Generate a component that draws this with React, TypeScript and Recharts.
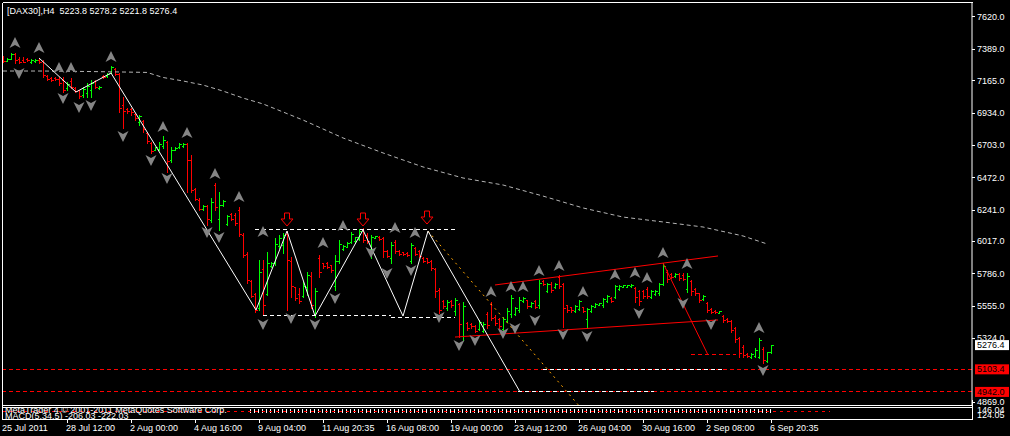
import React from 'react';
import { ComposedChart, Bar, Line, Scatter, XAxis, YAxis, ReferenceLine } from 'recharts';

const FONT = '"Liberation Sans", Arial, sans-serif';
const PLOT_R = 972;

// OHLC, one entry per H4 bar (bar 0 = 25 Jul 2011)
const opens = [
  7335, 7308, 7322, 7356, 7320, 7310, 7318, 7296, 7303, 7315, 7305, 7200, 7185, 7182, 7177, 7170,
  7110, 7160, 7115, 7095, 7060, 7080, 7100, 7160, 7110, 7200, 7195, 7222, 7250, 7213, 6990, 6963,
  6960, 6930, 6870, 6880, 6790, 6720, 6672, 6680, 6700, 6725, 6595, 6672, 6688, 6700, 6710, 6600,
  6390, 6315, 6245, 6270, 6170, 6420, 6180, 6275, 6140, 6210, 6205, 6240, 6060, 5930, 5735, 5640,
  5540, 5820, 5640, 5840, 5860, 5985, 5990, 6070, 5880, 5690, 5640, 5630, 5690, 5770, 5500, 5900,
  5860, 5860, 5845, 5700, 5880, 5960, 5980, 6010, 6020, 6035, 6100, 6060, 5960, 6044, 6052, 6040,
  5950, 5900, 6010, 5950, 5938, 5935, 5880, 5970, 5950, 5900, 5895, 5878, 5820, 5670, 5590, 5540,
  5590, 5520, 5570, 5340, 5435, 5430, 5415, 5390, 5380, 5500, 5570, 5480, 5460, 5390, 5450, 5500,
  5500, 5530, 5590, 5595, 5555, 5590, 5560, 5735, 5665, 5715, 5690, 5760, 5710, 5560, 5545, 5520,
  5535, 5545, 5460, 5520, 5552, 5565, 5560, 5590, 5615, 5620, 5680, 5693, 5694, 5695, 5685, 5660,
  5660, 5680, 5620, 5640, 5645, 5710, 5800, 5785, 5768, 5785, 5780, 5680, 5735, 5675, 5645, 5605,
  5580, 5535, 5522, 5508, 5485, 5465, 5450, 5395, 5330, 5265, 5215, 5190, 5200, 5195, 5250, 5165,
  5223.8,
];
const highs = [
  7341, 7327, 7363, 7363, 7334, 7334, 7327, 7320, 7320, 7320, 7313, 7206, 7191, 7191, 7191, 7191,
  7156, 7184, 7120, 7099, 7120, 7149, 7170, 7170, 7127, 7206, 7220, 7270, 7256, 7220, 7049, 6970,
  6970, 6934, 6920, 6884, 6799, 6727, 6691, 6727, 6770, 6734, 6691, 6691, 6720, 6720, 6720, 6634,
  6399, 6327, 6277, 6277, 6327, 6434, 6370, 6313, 6206, 6220, 6220, 6263, 6077, 5941, 5741, 5649,
  5884, 5884, 5941, 5870, 6041, 6063, 6077, 6091, 5906, 5691, 5684, 5727, 5799, 5799, 5684, 5920,
  5863, 5870, 5849, 5920, 6027, 5991, 6013, 6084, 6049, 6106, 6113, 6077, 6063, 6056, 6056, 6049,
  5956, 6013, 6027, 5956, 5941, 5941, 6006, 5977, 5956, 5906, 5899, 5884, 5827, 5684, 5599, 5599,
  5599, 5613, 5577, 5584, 5441, 5434, 5420, 5456, 5441, 5513, 5584, 5491, 5470, 5477, 5541, 5634,
  5549, 5620, 5620, 5599, 5584, 5599, 5741, 5741, 5720, 5727, 5720, 5777, 5720, 5563, 5549, 5563,
  5599, 5549, 5541, 5563, 5577, 5577, 5613, 5634, 5620, 5706, 5706, 5706, 5706, 5713, 5691, 5670,
  5670, 5691, 5670, 5670, 5720, 5863, 5813, 5791, 5791, 5791, 5791, 5791, 5741, 5684, 5649, 5634,
  5584, 5541, 5527, 5520, 5491, 5470, 5456, 5406, 5334, 5277, 5220, 5220, 5256, 5327, 5263, 5227,
  5278.2,
];
const lows = [
  7299, 7306, 7320, 7291, 7291, 7299, 7306, 7291, 7299, 7291, 7191, 7170, 7163, 7170, 7134, 7084,
  7099, 7113, 7084, 7041, 7049, 7049, 7049, 7113, 7106, 7184, 7191, 7220, 7206, 6941, 6827, 6934,
  6920, 6884, 6849, 6799, 6720, 6649, 6670, 6670, 6684, 6513, 6584, 6670, 6684, 6691, 6370, 6370,
  6313, 6241, 6241, 6134, 6156, 6241, 6099, 6270, 6134, 6170, 6134, 6056, 5906, 5720, 5620, 5513,
  5527, 5491, 5634, 5834, 5849, 5970, 5934, 5527, 5620, 5599, 5577, 5620, 5634, 5541, 5477, 5763,
  5827, 5827, 5799, 5670, 5863, 5956, 5977, 6006, 6013, 6027, 6013, 6006, 5899, 6041, 6027, 5906,
  5906, 5863, 5934, 5920, 5920, 5913, 5863, 5920, 5906, 5870, 5863, 5813, 5620, 5506, 5541, 5527,
  5549, 5491, 5334, 5313, 5384, 5399, 5370, 5384, 5370, 5399, 5456, 5420, 5399, 5370, 5441, 5477,
  5491, 5513, 5584, 5541, 5549, 5541, 5541, 5706, 5656, 5656, 5684, 5684, 5406, 5513, 5513, 5513,
  5527, 5513, 5399, 5513, 5549, 5563, 5549, 5584, 5584, 5613, 5670, 5691, 5691, 5691, 5584, 5563,
  5613, 5613, 5613, 5634, 5634, 5706, 5727, 5756, 5763, 5741, 5741, 5656, 5634, 5634, 5584, 5599,
  5513, 5506, 5506, 5506, 5441, 5441, 5370, 5299, 5191, 5191, 5191, 5184, 5191, 5184, 5149, 5156,
  5221.8,
];
const closes = [
  7305, 7322, 7356, 7310, 7300, 7302, 7310, 7312, 7316, 7300, 7206, 7178, 7170, 7175, 7148, 7099,
  7140, 7120, 7092, 7055, 7105, 7130, 7150, 7120, 7122, 7190, 7213, 7263, 7215, 6970, 6950, 6945,
  6940, 6895, 6910, 6820, 6735, 6660, 6688, 6715, 6740, 6590, 6670, 6685, 6710, 6715, 6600, 6385,
  6320, 6250, 6270, 6180, 6300, 6260, 6280, 6305, 6195, 6180, 6150, 6070, 5920, 5740, 5630, 5530,
  5800, 5560, 5860, 5862, 6000, 6040, 6060, 5885, 5700, 5610, 5590, 5700, 5780, 5560, 5660, 5800,
  5840, 5835, 5810, 5880, 6000, 5985, 6005, 6070, 6045, 6090, 6030, 6020, 6050, 6054, 6035, 5950,
  5915, 5990, 5950, 5930, 5925, 5920, 5990, 5930, 5915, 5880, 5870, 5830, 5660, 5530, 5555, 5585,
  5560, 5600, 5430, 5555, 5400, 5410, 5380, 5440, 5430, 5420, 5470, 5435, 5410, 5460, 5520, 5610,
  5540, 5600, 5615, 5555, 5580, 5550, 5720, 5712, 5710, 5670, 5712, 5700, 5540, 5530, 5525, 5555,
  5590, 5520, 5535, 5555, 5572, 5575, 5605, 5628, 5590, 5700, 5700, 5704, 5705, 5708, 5620, 5590,
  5625, 5630, 5660, 5665, 5710, 5840, 5745, 5765, 5785, 5755, 5750, 5770, 5660, 5645, 5600, 5628,
  5530, 5515, 5510, 5518, 5455, 5448, 5385, 5320, 5220, 5205, 5198, 5212, 5245, 5310, 5170, 5223.8,
  5276.4,
];

const timeTicks = [0, 16, 32, 48, 64, 80, 96, 112, 128, 144, 160, 176, 192];
const timeLabels = [
  '25 Jul 2011', '28 Jul 12:00', '2 Aug 00:00', '4 Aug 16:00', '9 Aug 04:00', '11 Aug 20:35',
  '16 Aug 08:00', '19 Aug 00:00', '23 Aug 12:00', '26 Aug 04:00', '30 Aug 16:00', '2 Sep 08:00', '6 Sep 20:35',
];
const priceTicks = [7620, 7389, 7165, 6934, 6703, 6472, 6241, 6017, 5786, 5555, 5324, 4869];

// slow moving average (dotted grey)
const maIdx = [0, 10, 20, 30, 36, 40, 45, 50, 55, 60, 65, 75, 85, 95, 105, 115, 125, 135, 145, 155, 165, 175, 185, 191];
const maVals = [7234, 7234, 7231, 7227, 7224, 7188, 7163, 7134, 7091, 7041, 6999, 6884, 6756, 6649, 6549, 6470, 6420, 6341, 6256, 6191, 6156, 6120, 6056, 5999];

// zigzag (white)
const zigIdx = [9, 18.25, 27, 63.25, 71, 78, 90, 100, 106.25, 129.25];
const zigVals = [7327, 7084, 7220, 5527, 6091, 5484, 6099, 5484, 6091, 4942];

// fractals
const upIdx = [3, 9, 14, 17, 27, 40, 46, 53, 59, 65, 80, 85, 98, 103, 122, 127, 130, 134, 139, 145, 153, 158, 161, 165, 171, 189];
const upVals = [7434, 7399, 7256, 7256, 7334, 6834, 6791, 6499, 6334, 6084, 6006, 6127, 6113, 6077, 5656, 5691, 5691, 5806, 5842, 5656, 5777, 5791, 5756, 5934, 5856, 5398];
const downIdx = [4, 15, 19, 22, 30, 37, 41, 51, 54, 65, 72, 78, 83, 92, 96, 102, 109, 114, 118, 125, 128, 133, 140, 146, 159, 170, 177, 190];
const downVals = [7220, 7041, 6977, 6991, 6770, 6599, 6470, 6084, 6049, 5427, 5470, 5427, 5613, 5941, 5791, 5813, 5477, 5277, 5313, 5363, 5399, 5456, 5356, 5341, 5506, 5577, 5427, 5099];
const markIdx = [71, 90, 106];
const markVals = [6170, 6170, 6184];

const levels = [5103.4, 4942.0];
const lastClose = 5276.4;

const bars = opens.map((o, k) => ({ i: k, o, h: highs[k], l: lows[k], c: closes[k], range: [lows[k], highs[k]] }));
const maData = maIdx.map((i, k) => ({ i, p: maVals[k] }));
const zigData = zigIdx.map((i, k) => ({ i, p: zigVals[k] }));
const upData = upIdx.map((i, k) => ({ i, p: upVals[k] }));
const downData = downIdx.map((i, k) => ({ i, p: downVals[k] }));
const markData = markIdx.map((i, k) => ({ i, p: markVals[k] }));

const OhlcShape = (props: any) => {
  const { x, y, width, height, payload } = props;
  if (!payload || x == null) return null;
  const { o, h, l, c } = payload;
  const cx = Math.round(x + width / 2) + 0.5;
  const span = h - l || 1;
  const at = (v: number) => Math.round(y + ((h - v) / span) * height) + 0.5;
  const col = c >= o ? '#00ff00' : '#ff0000';
  return (
    <g stroke={col} strokeWidth={1} shapeRendering="crispEdges">
      <line x1={cx} x2={cx} y1={Math.round(y)} y2={Math.round(y + height) + 1} />
      <line x1={cx - 2} x2={cx} y1={at(o)} y2={at(o)} />
      <line x1={cx} x2={cx + 2} y1={at(c)} y2={at(c)} />
    </g>
  );
};

const UpArrow = (p: any) => {
  const { cx, cy } = p;
  return (
    <polygon
      points={`${cx},${cy - 6} ${cx + 5.5},${cy + 5} ${cx},${cy + 2} ${cx - 5.5},${cy + 5}`}
      fill="#858585"
    />
  );
};

const DownArrow = (p: any) => {
  const { cx, cy } = p;
  return (
    <polygon
      points={`${cx},${cy + 6} ${cx + 5.5},${cy - 5} ${cx},${cy - 2} ${cx - 5.5},${cy - 5}`}
      fill="#858585"
    />
  );
};

const RedMark = (p: any) => {
  const { cx, cy } = p;
  return (
    <polygon
      points={`${cx - 2.5},${cy - 7} ${cx + 2.5},${cy - 7} ${cx + 2.5},${cy - 1} ${cx + 6},${cy - 1} ${cx},${cy + 6} ${cx - 6},${cy - 1} ${cx - 2.5},${cy - 1}`}
      fill="none"
      stroke="#ff0000"
      strokeWidth={1}
    />
  );
};

const PriceTick = (props: any) => {
  const { y, payload } = props;
  return (
    <g>
      <line x1={PLOT_R} x2={PLOT_R + 3} y1={y} y2={y} stroke="#fff" shapeRendering="crispEdges" />
      <text x={PLOT_R + 5} y={y} fill="#fff" fontSize={9} fontFamily={FONT} dominantBaseline="central">
        {Number(payload.value).toFixed(1)}
      </text>
    </g>
  );
};

const TimeTick = (props: any) => {
  const { x, payload } = props;
  const k = timeTicks.indexOf(payload.value);
  return (
    <g>
      {k > 0 && <line x1={x + 0.5} x2={x + 0.5} y1={419} y2={423} stroke="#fff" shapeRendering="crispEdges" />}
      <text x={x - 1} y={428} fill="#fff" fontSize={9} fontFamily={FONT} dominantBaseline="central">
        {timeLabels[k]}
      </text>
    </g>
  );
};

const priceBox = (fill: string, text: string, value: number) => (props: any) => {
  const vb = props.viewBox || {};
  const y = vb.y;
  return (
    <g>
      <rect x={975} y={y - 5} width={34} height={10} fill={fill} />
      <text x={977} y={y} fill={text} fontSize={9} fontFamily={FONT} dominantBaseline="central">
        {value.toFixed(1)}
      </text>
    </g>
  );
};

const dashed = { strokeDasharray: '4 3', shapeRendering: 'crispEdges', strokeWidth: 1 } as const;

export default function App() {
  return (
    <div style={{ position: 'absolute', left: 0, top: 0, width: 1010, height: 436, background: '#000', overflow: 'hidden' }}>
      <ComposedChart width={1010} height={436} data={bars} margin={{ top: 2, left: 2, right: 0, bottom: 0 }}>
        <XAxis
          dataKey="i"
          type="number"
          domain={[-0.25, 242.25]}
          allowDataOverflow
          ticks={timeTicks}
          interval={0}
          height={31}
          axisLine={false}
          tickLine={false}
          tick={<TimeTick />}
        />
        <YAxis
          orientation="right"
          type="number"
          domain={[4848.6, 7727]}
          allowDataOverflow
          ticks={priceTicks}
          interval={0}
          width={38}
          axisLine={{ stroke: '#fff' }}
          tickLine={false}
          tick={<PriceTick />}
        />
        <Line data={maData} dataKey="p" type="linear" stroke="#b4b4b4" strokeDasharray="4 3" dot={false} isAnimationActive={false} />
        <Bar dataKey="range" barSize={4} shape={OhlcShape} isAnimationActive={false} />
        <ReferenceLine segment={[{ x: -0.25, y: levels[0] }, { x: 242.25, y: levels[0] }]} stroke="#ff0000" {...dashed} />
        <ReferenceLine segment={[{ x: -0.25, y: levels[1] }, { x: 242.25, y: levels[1] }]} stroke="#ff0000" {...dashed} />
        <ReferenceLine segment={[{ x: 135, y: levels[0] }, { x: 180, y: levels[0] }]} stroke="#fff" {...dashed} />
        <ReferenceLine segment={[{ x: 128.75, y: levels[1] }, { x: 162.75, y: levels[1] }]} stroke="#fff" {...dashed} />
        <ReferenceLine segment={[{ x: 63, y: 6100 }, { x: 113, y: 6100 }]} stroke="#fff" {...dashed} />
        <ReferenceLine segment={[{ x: 65, y: 5491 }, { x: 97, y: 5491 }]} stroke="#fff" {...dashed} />
        <ReferenceLine segment={[{ x: 97, y: 5470 }, { x: 113, y: 5470 }]} stroke="#fff" {...dashed} />
        <ReferenceLine segment={[{ x: 106.25, y: 6091 }, { x: 143.8, y: 4850 }]} stroke="#ffa500" strokeDasharray="2 4" />
        <ReferenceLine segment={[{ x: 123, y: 5706 }, { x: 178.75, y: 5913 }]} stroke="#ff0000" />
        <ReferenceLine segment={[{ x: 113, y: 5334 }, { x: 178.75, y: 5456 }]} stroke="#ff0000" />
        <ReferenceLine segment={[{ x: 165, y: 5863 }, { x: 176.25, y: 5206 }]} stroke="#ff0000" />
        <ReferenceLine segment={[{ x: 172, y: 5206 }, { x: 183.25, y: 5206 }]} stroke="#ff0000" {...dashed} />
        <ReferenceLine y={levels[0]} stroke="none" label={priceBox('#ff0000', '#000', levels[0])} />
        <ReferenceLine y={levels[1]} stroke="none" label={priceBox('#ff0000', '#000', levels[1])} />
        <ReferenceLine y={lastClose} stroke="none" label={priceBox('#ffffff', '#000', lastClose)} />
        <Line data={zigData} dataKey="p" type="linear" stroke="#ffffff" strokeWidth={1} dot={false} isAnimationActive={false} />
        <Scatter data={upData} dataKey="p" shape={UpArrow} isAnimationActive={false} />
        <Scatter data={downData} dataKey="p" shape={DownArrow} isAnimationActive={false} />
        <Scatter data={markData} dataKey="p" shape={RedMark} isAnimationActive={false} />
      </ComposedChart>
      <svg width={1010} height={436} style={{ position: 'absolute', left: 0, top: 0, pointerEvents: 'none' }}>
        <defs>
          <pattern id="histTicks" x={2} y={0} width={4} height={6} patternUnits="userSpaceOnUse">
            <rect x={0} y={0} width={1} height={5} fill="#fff" />
            <rect x={0} y={0} width={3} height={1} fill="#fff" />
          </pattern>
          <clipPath id="subClip">
            <rect x={3} y={408} width={969} height={11} />
          </clipPath>
        </defs>
        <g stroke="#fff" strokeWidth={1} shapeRendering="crispEdges" fill="none">
          <line x1={2.5} x2={PLOT_R + 0.5} y1={2.5} y2={2.5} />
          <line x1={2.5} x2={2.5} y1={2.5} y2={419.5} />
          <line x1={2.5} x2={PLOT_R + 0.5} y1={405.5} y2={405.5} />
          <line x1={2.5} x2={PLOT_R + 0.5} y1={407.5} y2={407.5} />
          <line x1={2.5} x2={PLOT_R + 0.5} y1={419.5} y2={419.5} />
          <line x1={PLOT_R + 0.5} x2={PLOT_R + 0.5} y1={400} y2={420} />
        </g>
        <g clipPath="url(#subClip)">
          <rect x={250} y={409} width={522} height={5} fill="url(#histTicks)" />
          <line x1={3} x2={830} y1={411.5} y2={411.5} stroke="#ff0000" strokeDasharray="3 4" shapeRendering="crispEdges" />
          <text x={5} y={410} fill="#fff" fontSize={9} fontFamily={FONT} dominantBaseline="central">
            MetaTrader 4 © 2001-2011 MetaQuotes Software Corp.
          </text>
          <text x={5} y={416} fill="#fff" fontSize={9} fontFamily={FONT} dominantBaseline="central">
            MACD(5,34,5) -206.03 -222.03
          </text>
        </g>
        <text x={977} y={410} fill="#fff" fontSize={9} fontFamily={FONT} dominantBaseline="central">146.04</text>
        <text x={977} y={415} fill="#fff" fontSize={9} fontFamily={FONT} dominantBaseline="central">124.05</text>
        <text x={7} y={11} fill="#fff" fontSize={9} fontFamily={FONT} dominantBaseline="central" style={{ whiteSpace: 'pre' }}>
          {'[DAX30],H4  5223.8 5278.2 5221.8 5276.4'}
        </text>
      </svg>
    </div>
  );
}
